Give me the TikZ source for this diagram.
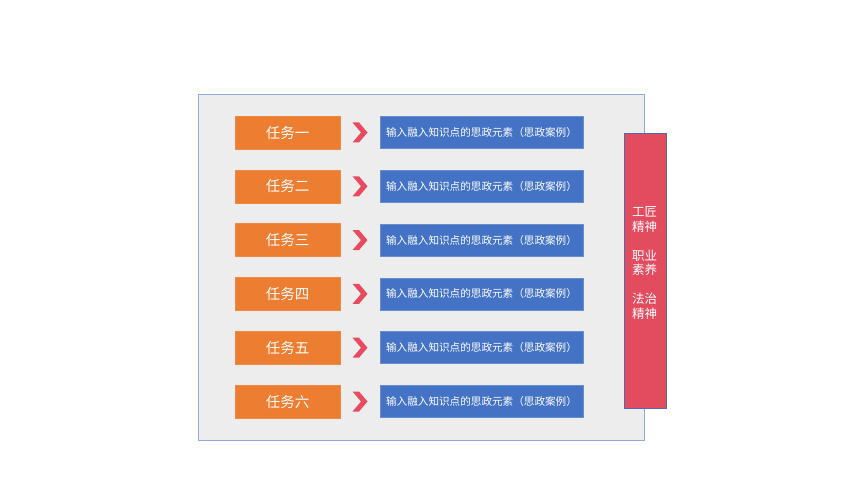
\documentclass[tikz,border=0pt]{standalone}
\usepackage{fontspec}
\setmainfont{Noto Sans CJK SC}
\newfontfamily\cjk{Noto Sans CJK SC}
\definecolor{panelgray}{HTML}{EDEDED}
\definecolor{panelline}{HTML}{8FAADC}
\definecolor{taskorange}{HTML}{ED7D31}
\definecolor{itemblue}{HTML}{4472C4}
\definecolor{barred}{HTML}{E34B5F}
\definecolor{barline}{HTML}{4F6AB0}
\definecolor{chevred}{HTML}{E84A5F}
\tikzset{
  taskbox/.style={fill=taskorange, draw=taskorange!90!white, line width=0.5pt, minimum width=105pt, minimum height=33pt, inner sep=0pt, text=white, font=\cjk\fontsize{14.5pt}{16pt}\selectfont},
  itembox/.style={fill=itemblue, draw=itemblue!80!white, line width=0.5pt, minimum width=203pt, minimum height=32pt, inner sep=0pt, text=white, font=\cjk\fontsize{10.6pt}{12pt}\selectfont},
  chev/.style={fill=chevred, draw=none},
  bartext/.style={text=white, font=\cjk\fontsize{12.5pt}{14.5pt}\selectfont, align=center, inner sep=0pt}
}
\begin{document}
\begin{tikzpicture}[x=1pt,y=-1pt]
\useasboundingbox (0,0) rectangle (860,484);
\fill[white] (0,0) rectangle (860,484);
% panel
\node[draw=panelline, fill=panelgray, line width=0.8pt, minimum width=446pt, minimum height=345pt, inner sep=0pt, anchor=north west] (panel) at (197.5,94.5) {};
% red bar
\node[fill=barred, draw=barline, line width=0.8pt, minimum width=42pt, minimum height=275pt, inner sep=0pt, anchor=north west] (bar) at (623.5,132.8) {};
\node[bartext] (bartxt) at (644.5,263) {工匠\\精神\\[14.5pt]职业\\素养\\[14.5pt]法治\\精神};
% rows
\foreach \i/\lab in {0/任务一,1/任务二,2/任务三,3/任务四,4/任务五,5/任务六}{
  \pgfmathsetmacro{\yy}{132.5+53.8*\i}
  \node[taskbox] (t\i) at (287.5,\yy) {\lab};
  \node[itembox] (b\i) at (481.5,\yy) {输入融入知识点的思政元素（思政案例）};
  \coordinate (c\i) at (352.5,\yy);
  \fill[chev] ([yshift=10pt]c\i) -- ++(6.5,0) -- ++(8.5,10) -- ++(-8.5,10) -- ++(-6.5,0) -- ++(8.5,-10) -- cycle;
}
\end{tikzpicture}
\end{document}
